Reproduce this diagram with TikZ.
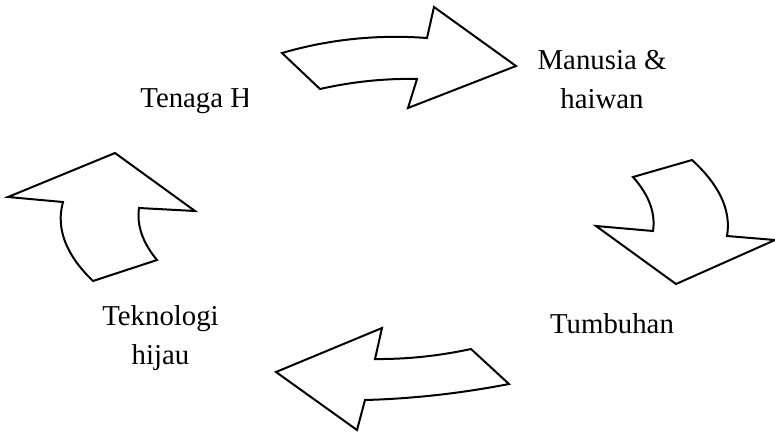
\documentclass[tikz,border=0pt]{standalone}
\usepackage{fontspec}
\setmainfont{Liberation Serif}
\usetikzlibrary{positioning}

\tikzset{
	panah/.style={draw, line width=1pt, fill=white, line join=miter},
	label/.style={inner sep=0pt, align=center, font=\fontsize{14.4}{19.25}\selectfont}
}

\begin{document}
\begin{tikzpicture}[x=0.5pt,y=-0.5pt]
	\useasboundingbox (0,0) rectangle (775,434);

	\begin{scope}
		\clip (130,80) rectangle (247,125);
		\node[label, anchor=base west]	(tenaga)	at (140,107)	{Tenaga H};
	\end{scope}
	\node[label, anchor=base]	(manusia)	at (602,108)	{Manusia \&\\haiwan};
	\node[label, anchor=base]	(tumbuhan)	at (612,333)	{Tumbuhan};
	\node[label, anchor=base]	(teknologi)	at (160.5,364)	{Teknologi\\hijau};

	\draw[panah] (282,53) .. controls (329,39.3) and (377.3,34.3) .. (427,38) -- (434,7) -- (516,66)
		-- (408,108) -- (417,79) .. controls (384.7,78.3) and (352.3,81.7) .. (320,89) -- cycle;
	\draw[panah] (633,177) -- (692,160) .. controls (719.7,185.3) and (731.3,210.7) .. (727,236) -- (775,240)
		-- (676,284) -- (596,226) -- (653,231) .. controls (655.7,213) and (649,195) .. (633,177) -- cycle;
	\draw[panah] (276,372) -- (382,328) -- (375,359) .. controls (407,359.3) and (439,355.9) .. (471,349)
		-- (509,384) .. controls (461,393.3) and (413,398.7) .. (365,400) -- (357,430) -- cycle;
	\draw[panah] (115,153) -- (195,211) -- (139,208) .. controls (136.6,225.3) and (142.6,242.7) .. (157,260)
		-- (93,281) .. controls (65.7,254.7) and (55.7,228.3) .. (63,202) -- (8,197) -- cycle;
\end{tikzpicture}
\end{document}
